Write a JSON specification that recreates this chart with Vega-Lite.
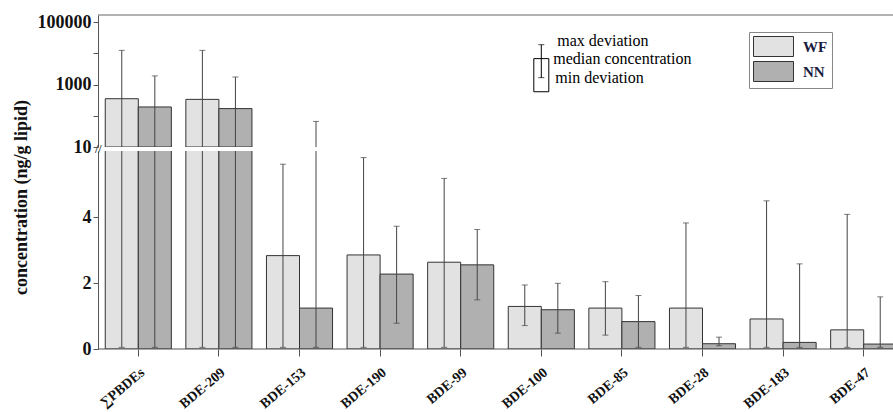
{
  "$schema": "https://vega.github.io/schema/vega-lite/v6.json",
  "padding": {"left": 11, "top": 13, "right": 0, "bottom": 0},
  "background": "white",
  "bounds": "flush",
  "config": {
    "view": {"stroke": null},
    "font": "Liberation Serif",
    "axis": {"grid": false, "domainColor": "#555", "tickColor": "#555", "labelColor": "#111", "titleColor": "#111", "labelFontWeight": "bold", "labelFont": "Liberation Serif", "titleFont": "Liberation Serif"}
  },
  "data": {
    "values": [
      {"compound": "∑PBDEs", "group": "WF", "median": 353, "low": 0.05, "high": 12500},
      {"compound": "∑PBDEs", "group": "NN", "median": 192, "low": 0.05, "high": 1900},
      {"compound": "BDE-209", "group": "WF", "median": 336, "low": 0.05, "high": 12500},
      {"compound": "BDE-209", "group": "NN", "median": 170, "low": 0.05, "high": 1750},
      {"compound": "BDE-153", "group": "WF", "median": 2.83, "low": 0.05, "high": 5.6},
      {"compound": "BDE-153", "group": "NN", "median": 1.24, "low": 0.05, "high": 66},
      {"compound": "BDE-190", "group": "WF", "median": 2.85, "low": 0.05, "high": 5.8},
      {"compound": "BDE-190", "group": "NN", "median": 2.27, "low": 0.78, "high": 3.72},
      {"compound": "BDE-99", "group": "WF", "median": 2.63, "low": 0.05, "high": 5.17},
      {"compound": "BDE-99", "group": "NN", "median": 2.55, "low": 1.49, "high": 3.62},
      {"compound": "BDE-100", "group": "WF", "median": 1.29, "low": 0.71, "high": 1.94},
      {"compound": "BDE-100", "group": "NN", "median": 1.19, "low": 0.48, "high": 1.99},
      {"compound": "BDE-85", "group": "WF", "median": 1.24, "low": 0.42, "high": 2.04},
      {"compound": "BDE-85", "group": "NN", "median": 0.83, "low": 0.05, "high": 1.62},
      {"compound": "BDE-28", "group": "WF", "median": 1.24, "low": 0.05, "high": 3.82},
      {"compound": "BDE-28", "group": "NN", "median": 0.16, "low": 0.1, "high": 0.36},
      {"compound": "BDE-183", "group": "WF", "median": 0.91, "low": 0.05, "high": 4.49},
      {"compound": "BDE-183", "group": "NN", "median": 0.2, "low": 0.05, "high": 2.58},
      {"compound": "BDE-47", "group": "WF", "median": 0.58, "low": 0.05, "high": 4.08},
      {"compound": "BDE-47", "group": "NN", "median": 0.15, "low": 0.05, "high": 1.58}
    ]
  },
  "spacing": 4,
  "resolve": {"scale": {"x": "independent", "y": "independent", "fill": "independent", "xOffset": "independent"}, "legend": {"fill": "independent"}},
  "vconcat": [
    {
      "width": 796,
      "height": 132,
      "layer": [
        {
          "transform": [{"filter": "datum.median >= 10"}],
          "mark": {"type": "bar", "clip": true, "stroke": "#333", "strokeWidth": 1},
          "encoding": {
            "x": {"field": "compound", "type": "nominal", "sort": null, "axis": null,
                  "scale": {"domain": ["∑PBDEs","BDE-209","BDE-153","BDE-190","BDE-99","BDE-100","BDE-85","BDE-28","BDE-183","BDE-47"], "range": [0, 806], "paddingInner": 0.18, "paddingOuter": 0.09}},
            "xOffset": {"field": "group", "type": "nominal", "scale": {"domain": ["WF","NN"], "paddingInner": 0, "paddingOuter": 0}},
            "y": {"field": "median", "type": "quantitative",
                  "scale": {"type": "log", "domain": [10, 170000], "nice": false},
                  "axis": {"title": null, "values": [10, 100, 1000, 10000, 100000], "labelExpr": "datum.value == 10 || datum.value == 1000 || datum.value == 100000 ? format(datum.value, 'd') : ''", "tickSize": 5, "labelPadding": 2, "labelFontSize": 18}},
            "y2": {"datum": 10},
            "fill": {"field": "group", "type": "nominal",
                     "scale": {"domain": ["WF","NN"], "range": ["#e2e2e2", "#b0b0b0"]},
                     "legend": {"orient": "none", "legendX": 651, "legendY": 17, "title": null, "symbolType": "M-1,-1H3V1H-1Z", "symbolSize": 400, "symbolStrokeColor": "#333", "symbolStrokeWidth": 1, "symbolOpacity": 1, "labelFontSize": 15, "labelFontWeight": "bold", "labelColor": "#1b1b40", "labelFont": "Liberation Serif", "rowPadding": 0, "padding": 4, "labelOffset": 29, "strokeColor": "#888", "fillColor": "white"}}
          }
        },
        {
          "transform": [{"filter": "datum.high >= 10"}],
          "mark": {"type": "rule", "clip": true, "color": "#444", "strokeWidth": 1},
          "encoding": {
            "x": {"field": "compound", "type": "nominal", "sort": null},
            "xOffset": {"field": "group", "type": "nominal"},
            "y": {"field": "high", "type": "quantitative"},
            "y2": {"datum": 10}
          }
        },
        {
          "transform": [{"filter": "datum.high >= 10"}],
          "mark": {"type": "tick", "clip": true, "color": "#444", "orient": "horizontal", "size": 6, "thickness": 1},
          "encoding": {
            "x": {"field": "compound", "type": "nominal", "sort": null},
            "xOffset": {"field": "group", "type": "nominal"},
            "y": {"field": "high", "type": "quantitative"}
          }
        },
        {
          "data": {"values": [{}]},
          "mark": {"type": "rule", "color": "#666", "strokeWidth": 1},
          "encoding": {"y": {"datum": 170000}}
        },
        {
          "data": {"values": [{}]},
          "mark": {"type": "bar", "width": 15, "fill": "white", "stroke": "#000", "strokeWidth": 1},
          "encoding": {"x": {"datum": "BDE-100"}, "y": {"datum": 6800}, "y2": {"datum": 590}}
        },
        {
          "data": {"values": [{}]},
          "mark": {"type": "rule", "color": "#000", "strokeWidth": 1},
          "encoding": {"x": {"datum": "BDE-100"}, "y": {"datum": 19000}, "y2": {"datum": 1670}}
        },
        {
          "data": {"values": [{}]},
          "mark": {"type": "tick", "color": "#000", "orient": "horizontal", "size": 6, "thickness": 1},
          "encoding": {"x": {"datum": "BDE-100"}, "y": {"datum": 19000}}
        },
        {
          "data": {"values": [{}]},
          "mark": {"type": "tick", "color": "#000", "orient": "horizontal", "size": 6, "thickness": 1},
          "encoding": {"x": {"datum": "BDE-100"}, "y": {"datum": 1670}}
        },
        {
          "data": {"values": [{}]},
          "mark": {"type": "text", "align": "left", "baseline": "middle", "dx": 16, "fontSize": 16, "font": "Liberation Serif", "color": "#000"},
          "encoding": {"x": {"datum": "BDE-100"}, "y": {"datum": 25600}, "text": {"value": "max deviation"}}
        },
        {
          "data": {"values": [{}]},
          "mark": {"type": "text", "align": "left", "baseline": "middle", "dx": 12, "fontSize": 16, "font": "Liberation Serif", "color": "#000"},
          "encoding": {"x": {"datum": "BDE-100"}, "y": {"datum": 6800}, "text": {"value": "median concentration"}}
        },
        {
          "data": {"values": [{}]},
          "mark": {"type": "text", "align": "left", "baseline": "middle", "dx": 14, "fontSize": 16, "font": "Liberation Serif", "color": "#000"},
          "encoding": {"x": {"datum": "BDE-100"}, "y": {"datum": 1670}, "text": {"value": "min deviation"}}
        }
      ]
    },
    {
      "width": 796,
      "height": 198,
      "layer": [
        {
          "mark": {"type": "bar", "clip": true, "stroke": "#333", "strokeWidth": 1},
          "encoding": {
            "x": {"field": "compound", "type": "nominal", "sort": null,
                  "scale": {"domain": ["∑PBDEs","BDE-209","BDE-153","BDE-190","BDE-99","BDE-100","BDE-85","BDE-28","BDE-183","BDE-47"], "range": [0, 806], "paddingInner": 0.18, "paddingOuter": 0.09},
                  "axis": {"title": null, "domain": false, "ticks": true, "tickSize": 7, "labelAngle": -40, "labelAlign": "right", "labelBaseline": "top", "labelPadding": 9, "labelFontSize": 14}},
            "xOffset": {"field": "group", "type": "nominal", "scale": {"domain": ["WF","NN"], "paddingInner": 0, "paddingOuter": 0}},
            "y": {"field": "median", "type": "quantitative",
                  "scale": {"domain": [0, 6], "nice": false},
                  "axis": {"title": "concentration (ng/g lipid)", "values": [0, 2, 4], "tickSize": 5, "labelPadding": 2, "labelFontSize": 18, "titleFontSize": 18, "titleFontWeight": "bold", "titleX": -68, "titleY": 46}},
            "fill": {"field": "group", "type": "nominal", "scale": {"domain": ["WF","NN"], "range": ["#e2e2e2", "#b0b0b0"]}, "legend": null}
          }
        },
        {
          "mark": {"type": "rule", "clip": true, "color": "#444", "strokeWidth": 1},
          "encoding": {
            "x": {"field": "compound", "type": "nominal", "sort": null},
            "xOffset": {"field": "group", "type": "nominal"},
            "y": {"field": "low", "type": "quantitative"},
            "y2": {"field": "high"}
          }
        },
        {
          "mark": {"type": "tick", "clip": true, "color": "#444", "orient": "horizontal", "size": 6, "thickness": 1},
          "encoding": {
            "x": {"field": "compound", "type": "nominal", "sort": null},
            "xOffset": {"field": "group", "type": "nominal"},
            "y": {"field": "high", "type": "quantitative"}
          }
        },
        {
          "mark": {"type": "tick", "clip": true, "color": "#444", "orient": "horizontal", "size": 6, "thickness": 1},
          "encoding": {
            "x": {"field": "compound", "type": "nominal", "sort": null},
            "xOffset": {"field": "group", "type": "nominal"},
            "y": {"field": "low", "type": "quantitative"}
          }
        },
        {
          "data": {"values": [{}]},
          "mark": {"type": "rule", "color": "#555", "strokeWidth": 1},
          "encoding": {"y": {"datum": 0}}
        },
        {
          "data": {"values": [{}]},
          "mark": {"type": "text", "dx": -7, "dy": -2, "fontSize": 12, "fontWeight": "bold", "color": "#444", "baseline": "middle", "align": "center"},
          "encoding": {"x": {"datum": "∑PBDEs", "bandPosition": 0}, "y": {"datum": 6}, "text": {"value": "//"}}
        }
      ]
    }
  ]
}
